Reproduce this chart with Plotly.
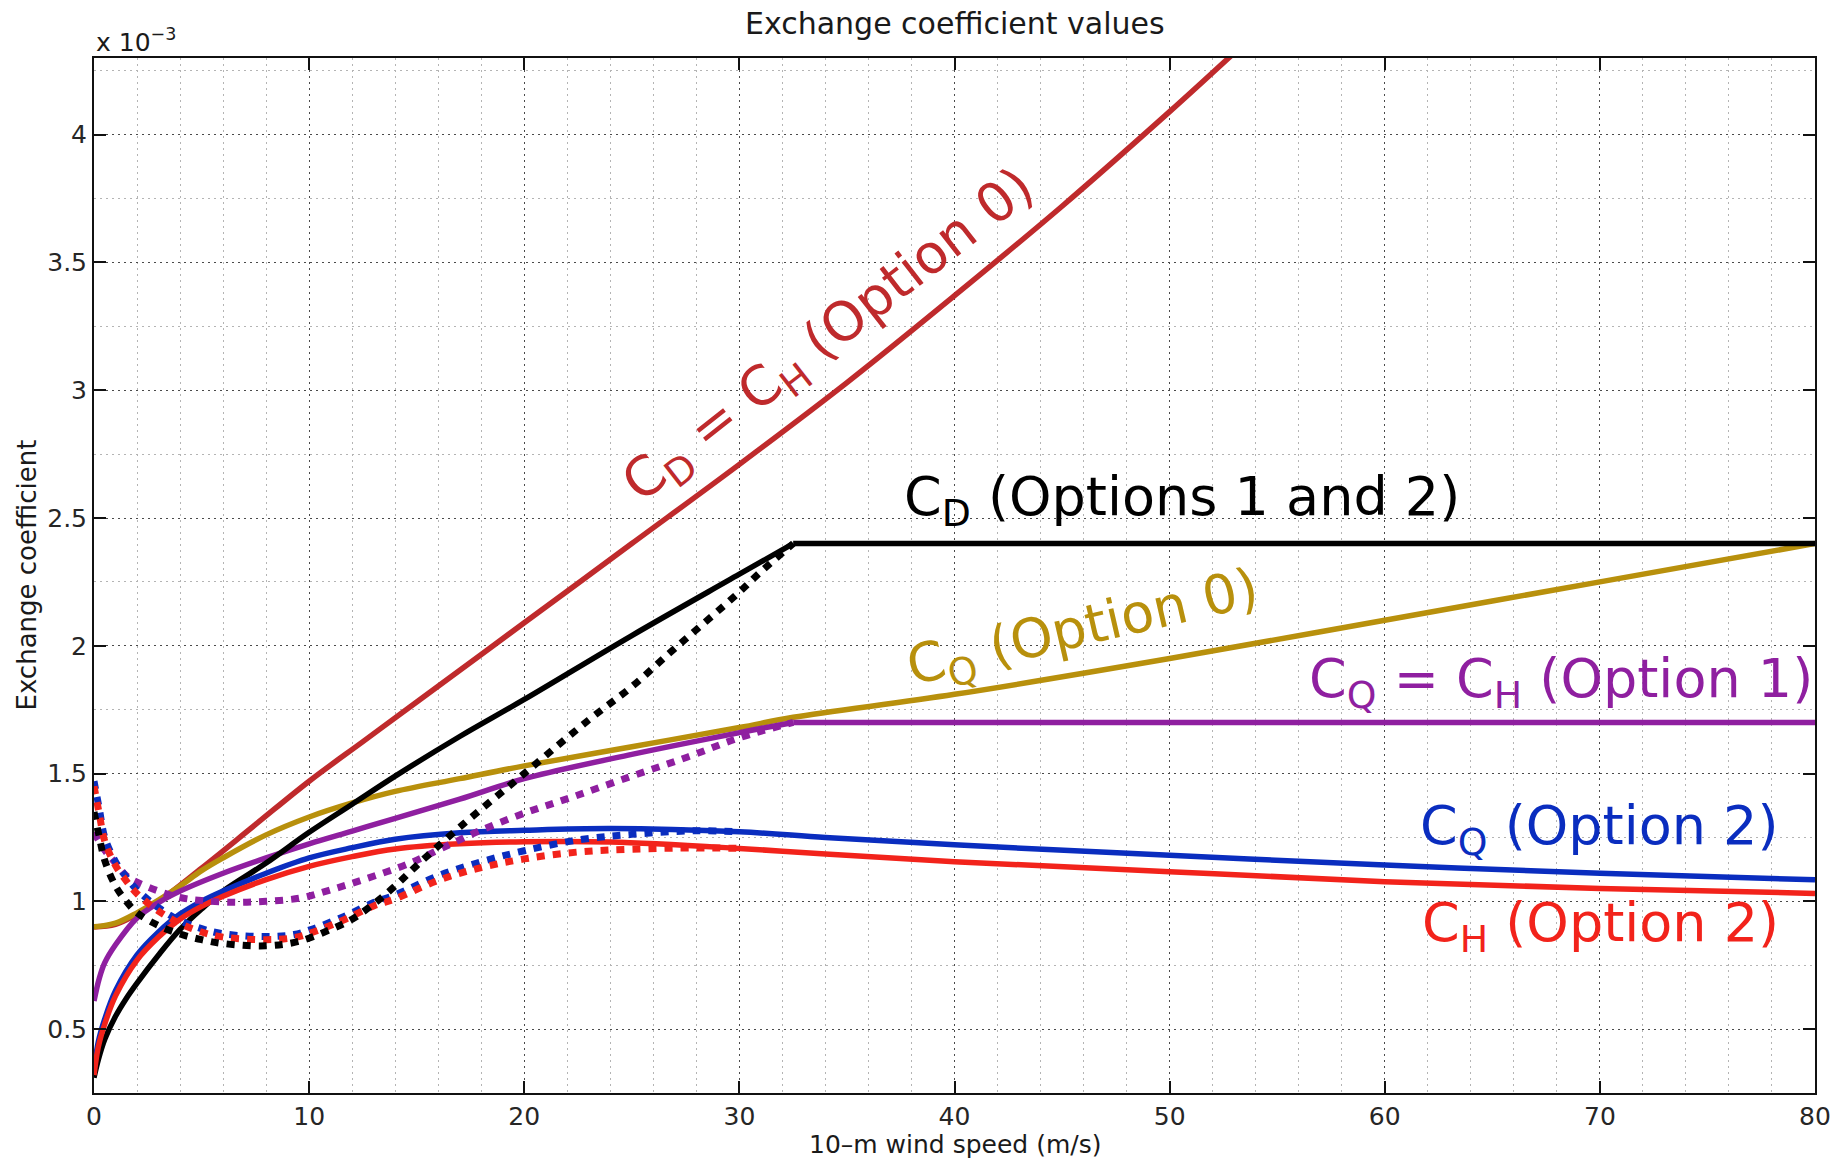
import plotly.graph_objects as go

# Exchange coefficients (units of 1e-3) versus 10-m wind speed (m/s)

# C_D = C_H, Option 0
cd_opt0_u = [0, 1, 2, 3, 5, 7.5, 10, 12.5, 15, 20, 25, 30, 35, 40, 45, 50, 53]
cd_opt0 = [0.90, 0.91, 0.95, 1.00, 1.13, 1.30, 1.47, 1.625, 1.78, 2.09, 2.40, 2.71,
           3.03, 3.37, 3.72, 4.09, 4.32]

# C_Q, Option 0
cq_opt0_u = [0, 1, 2, 3, 4, 5, 6, 8, 10, 12, 14, 17, 20, 25, 30, 32.5, 40, 50, 60, 70, 80]
cq_opt0 = [0.90, 0.915, 0.955, 1.005, 1.06, 1.12, 1.17, 1.26, 1.33, 1.385, 1.43, 1.48,
           1.53, 1.605, 1.68, 1.72, 1.81, 1.95, 2.10, 2.25, 2.40]

# C_D, Options 1 and 2 (rising part, then capped)
cd_opt12_u = [0, 0.2, 0.5, 1, 1.5, 2, 3, 4, 5, 6, 8, 10, 12, 14, 17, 20, 25, 30, 32.5]
cd_opt12 = [0.31, 0.38, 0.46, 0.55, 0.62, 0.68, 0.79, 0.89, 0.97, 1.04, 1.15, 1.27,
            1.38, 1.49, 1.645, 1.79, 2.04, 2.28, 2.40]
cd_opt12_cap_u = [32.5, 80]
cd_opt12_cap = [2.40, 2.40]

# C_Q = C_H, Option 1 (rising part, then capped)
cqch_opt1_u = [0, 0.25, 0.5, 1, 2, 3, 4, 6, 8, 10, 12, 14, 17, 20, 25, 30, 32.5]
cqch_opt1 = [0.61, 0.70, 0.76, 0.83, 0.935, 0.995, 1.04, 1.11, 1.17, 1.225, 1.275,
             1.325, 1.40, 1.48, 1.575, 1.66, 1.70]
cqch_opt1_cap_u = [32.5, 80]
cqch_opt1_cap = [1.70, 1.70]

# C_Q and C_H, Option 2
opt2_u = [0, 0.2, 0.5, 1, 2, 3, 4, 5, 6, 8, 10, 12, 14, 17, 20, 24, 30, 34, 40, 50, 60, 70, 80]
cq_opt2 = [0.34, 0.45, 0.54, 0.65, 0.79, 0.88, 0.95, 1.00, 1.04, 1.11, 1.17, 1.21,
           1.243, 1.268, 1.278, 1.285, 1.272, 1.25, 1.221, 1.18, 1.142, 1.11, 1.084]
ch_opt2 = [0.32, 0.43, 0.52, 0.63, 0.77, 0.86, 0.93, 0.98, 1.02, 1.085, 1.137, 1.175,
           1.205, 1.225, 1.233, 1.232, 1.207, 1.185, 1.155, 1.116, 1.077, 1.05, 1.031]

# Dotted variants
cd_dot_u = [0, 0.25, 0.5, 1, 1.5, 2, 3, 4, 5, 6, 8, 9.5, 11, 12, 13, 14, 15, 17, 20,
            23, 25, 27, 30, 31, 32.5]
cd_dot = [1.35, 1.25, 1.16, 1.06, 1.0, 0.955, 0.905, 0.872, 0.85, 0.835, 0.826, 0.843,
          0.89, 0.93, 0.99, 1.06, 1.14, 1.29, 1.50, 1.71, 1.84, 1.99, 2.21, 2.29, 2.40]

cqch_dot_u = [0, 0.5, 1, 1.5, 2, 3, 4, 5, 6.5, 8, 9.6, 11, 12.6, 14.7, 16.1, 17.9, 20,
              22.3, 25, 27.6, 30, 32.5]
cqch_dot = [1.27, 1.20, 1.15, 1.10, 1.075, 1.04, 1.015, 1.003, 0.996, 1.0, 1.013, 1.045,
            1.087, 1.15, 1.205, 1.275, 1.345, 1.41, 1.49, 1.565, 1.64, 1.70]

opt2_dot_u = [0, 0.25, 0.5, 1, 1.5, 2, 3, 4, 5, 6, 8, 9.3, 10.2, 11.6, 13, 14, 16, 18,
              20, 22.5, 25, 28, 30]
cq_dot = [1.47, 1.36, 1.25, 1.155, 1.095, 1.045, 0.975, 0.925, 0.893, 0.873, 0.862,
          0.87, 0.893, 0.94, 0.995, 1.025, 1.10, 1.155, 1.198, 1.24, 1.262, 1.276, 1.272]
ch_dot = [1.45, 1.34, 1.235, 1.14, 1.08, 1.03, 0.962, 0.913, 0.88, 0.86, 0.85, 0.858,
          0.88, 0.927, 0.982, 1.01, 1.082, 1.132, 1.166, 1.193, 1.204, 1.209, 1.207]

y_ticks = [0.5, 1, 1.5, 2, 2.5, 3, 3.5, 4]
y_ticktext = ["0.5", "1", "1.5", "2", "2.5", "3", "3.5", "4"]
x_ticks = [0, 10, 20, 30, 40, 50, 60, 70, 80]

DARKRED = "#bf2a2c"
GOLD = "#b8900c"
PURPLE = "#8f1fa0"
BLUE = "#0a2dbf"
RED = "#f2231b"
BLACK = "#000000"

FONT = "DejaVu Sans"
SOLID_W = 5.5
DOT_W = 7
DOT_DASH = "8px,8px"

fig = go.Figure()


def add_line(u, v, color, width, dash="solid", shape="spline"):
    line = dict(color=color, width=width, dash=dash, shape=shape)
    if shape == "spline":
        line["smoothing"] = 1.0
    fig.add_trace(go.Scatter(
        x=u, y=v, mode="lines", line=line,
        hoverinfo="skip", showlegend=False,
    ))


# solid curves
add_line(cd_opt0_u, cd_opt0, DARKRED, SOLID_W)
add_line(cq_opt0_u, cq_opt0, GOLD, SOLID_W)
add_line(cqch_opt1_u, cqch_opt1, PURPLE, SOLID_W)
add_line(cqch_opt1_cap_u, cqch_opt1_cap, PURPLE, SOLID_W, shape="linear")
add_line(cd_opt12_u, cd_opt12, BLACK, SOLID_W)
add_line(cd_opt12_cap_u, cd_opt12_cap, BLACK, SOLID_W, shape="linear")
add_line(opt2_u, cq_opt2, BLUE, SOLID_W)
add_line(opt2_u, ch_opt2, RED, SOLID_W)

# dotted curves
add_line(cqch_dot_u, cqch_dot, PURPLE, DOT_W, DOT_DASH)
add_line(opt2_dot_u, cq_dot, BLUE, DOT_W, DOT_DASH)
add_line(opt2_dot_u, ch_dot, RED, DOT_W, DOT_DASH)
add_line(cd_dot_u, cd_dot, BLACK, DOT_W, DOT_DASH)

label_font = 54


def label(text, x, y, color, angle=0, xanchor="center"):
    fig.add_annotation(
        x=x, y=y, xref="x", yref="y", text=text, showarrow=False,
        textangle=angle, xanchor=xanchor, yanchor="middle",
        font=dict(family=FONT, size=label_font, color=color),
    )


label("C<sub>D</sub> = C<sub>H</sub> (Option 0)", 34.2, 3.21, DARKRED, angle=-38)
label("C<sub>D</sub> (Options 1 and 2)", 63.6, 2.57, BLACK, xanchor="right")
label("C<sub>Q</sub> (Option 0)", 46.0, 2.06, GOLD, angle=-13)
label("C<sub>Q</sub> = C<sub>H</sub> (Option 1)", 80.0, 1.86, PURPLE, xanchor="right")
label("C<sub>Q</sub> (Option 2)", 78.4, 1.285, BLUE, xanchor="right")
label("C<sub>H</sub> (Option 2)", 78.4, 0.905, RED, xanchor="right")

# axis titles, title and exponent
fig.add_annotation(
    x=0.5, y=1, xref="paper", yref="paper", yshift=35, text="Exchange coefficient values",
    showarrow=False, xanchor="center", yanchor="middle",
    font=dict(family=FONT, size=30, color="#1a1a1a"),
)
fig.add_annotation(
    x=0.5, y=0, xref="paper", yref="paper", yshift=-51, text="10–m wind speed (m/s)",
    showarrow=False, xanchor="center", yanchor="middle",
    font=dict(family=FONT, size=25, color="#1a1a1a"),
)
fig.add_annotation(
    x=0, y=0.5, xref="paper", yref="paper", xshift=-68, text="Exchange coefficient",
    showarrow=False, xanchor="center", yanchor="middle", textangle=-90,
    font=dict(family=FONT, size=26, color="#1a1a1a"),
)
fig.add_annotation(
    x=0, y=1, xref="paper", yref="paper", yshift=18, text="x 10<sup>−3</sup>",
    showarrow=False, xanchor="left", yanchor="middle",
    font=dict(family=FONT, size=25, color="#1a1a1a"),
)

axis_common = dict(
    showline=True, linecolor="#111111", linewidth=2, mirror="ticks",
    ticks="inside", ticklen=12, tickwidth=2, tickcolor="#111111",
    showgrid=True, gridcolor="#4a4a4a", gridwidth=1.4, griddash="2px,4px",
    zeroline=False,
    tickfont=dict(family=FONT, size=25, color="#262626"),
)

fig.update_xaxes(
    range=[0, 80], tickvals=x_ticks,
    minor=dict(dtick=2, showgrid=True, gridcolor="#b4b4b4", gridwidth=1.2, griddash="2px,4px"),
    **axis_common,
)
fig.update_yaxes(
    range=[0.25, 4.3], tickvals=y_ticks, ticktext=y_ticktext,
    minor=dict(dtick=0.25, tick0=0, showgrid=True, gridcolor="#b4b4b4", gridwidth=1.2,
               griddash="2px,4px"),
    **axis_common,
)

fig.update_layout(
    width=1848, height=1160,
    margin=dict(l=94, r=33, t=58, b=67),
    plot_bgcolor="white", paper_bgcolor="white",
    showlegend=False,
)

fig.write_html("out.html")
